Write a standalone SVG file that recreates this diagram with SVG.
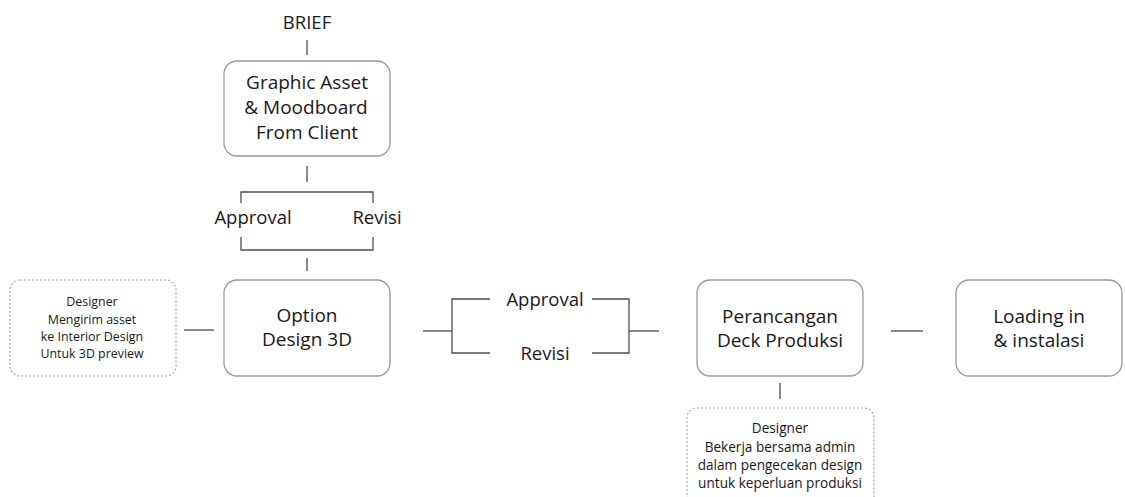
<svg xmlns="http://www.w3.org/2000/svg" width="1125" height="497" viewBox="0 0 1125 497">
<style>
text{font-family:"Open Sans","Liberation Sans",sans-serif;fill:#1a1718;text-anchor:middle}
.big{font-size:19px}
.mid{font-size:18.5px}
.sm{font-size:12.4px}
.sm2{font-size:13.6px}
.box{fill:#fff;stroke:#9a9a9a;stroke-width:1.3}
.dash{fill:#fff;stroke:#a8a8a8;stroke-width:1.2;stroke-dasharray:2 2}
.ln{fill:none;stroke:#4d4d4d;stroke-width:1.3}
</style>
<rect width="1125" height="497" fill="#fff"/>
<g id="connectors">
<line class="ln" x1="307" y1="40" x2="307" y2="55"/>
<line class="ln" x1="307" y1="166" x2="307" y2="182"/>
<polyline class="ln" points="241,203 241,192 373,192 373,203"/>
<polyline class="ln" points="241,237 241,250 373,250 373,237"/>
<line class="ln" x1="307" y1="258" x2="307" y2="271"/>
<line class="ln" x1="184" y1="330" x2="214" y2="330"/>
<line class="ln" x1="423" y1="331" x2="452" y2="331"/>
<polyline class="ln" points="490,299 452,299 452,353 490,353"/>
<polyline class="ln" points="592,299 629,299 629,353 592,353"/>
<line class="ln" x1="629" y1="331" x2="659" y2="331"/>
<line class="ln" x1="891" y1="331" x2="923" y2="331"/>
<line class="ln" x1="780" y1="383" x2="780" y2="399"/>
</g>
<g id="brief"><text class="mid" x="307" y="29">BRIEF</text></g>
<g id="graphic-asset">
<rect class="box" x="224" y="61" width="166" height="95" rx="13"/>
<text class="big" x="307" y="89">Graphic Asset</text>
<text class="big" x="306" y="114">&amp; Moodboard</text>
<text class="big" x="307" y="139">From Client</text>
</g>
<g id="approval-top"><text class="mid" x="253" y="224">Approval</text></g>
<g id="revisi-top"><text class="mid" x="377" y="224">Revisi</text></g>
<g id="note-left">
<rect class="dash" x="10" y="280" width="166" height="96" rx="10"/>
<text class="sm" x="92" y="306">Designer</text>
<text class="sm" x="92" y="323.5">Mengirim asset</text>
<text class="sm" x="92" y="341">ke Interior Design</text>
<text class="sm" x="92" y="358">Untuk 3D preview</text>
</g>
<g id="option-design">
<rect class="box" x="224" y="280" width="166" height="96" rx="13"/>
<text class="big" x="307" y="322">Option</text>
<text class="big" x="307" y="346">Design 3D</text>
</g>
<g id="approval-mid"><text class="mid" x="545" y="306">Approval</text></g>
<g id="revisi-mid"><text class="mid" x="545" y="360">Revisi</text></g>
<g id="perancangan">
<rect class="box" x="697" y="280" width="166" height="96" rx="13"/>
<text class="big" x="780" y="323">Perancangan</text>
<text class="big" x="780" y="347">Deck Produksi</text>
</g>
<g id="loading">
<rect class="box" x="956" y="280" width="166" height="96" rx="13"/>
<text class="big" x="1039" y="323">Loading in</text>
<text class="big" x="1039" y="347">&amp; instalasi</text>
</g>
<g id="note-bottom">
<rect class="dash" x="687" y="408" width="187" height="110" rx="10"/>
<text class="sm2" x="780" y="433">Designer</text>
<text class="sm2" x="780" y="452">Bekerja bersama admin</text>
<text class="sm2" x="780" y="470">dalam pengecekan design</text>
<text class="sm2" x="780" y="488">untuk keperluan produksi</text>
</g>
</svg>
